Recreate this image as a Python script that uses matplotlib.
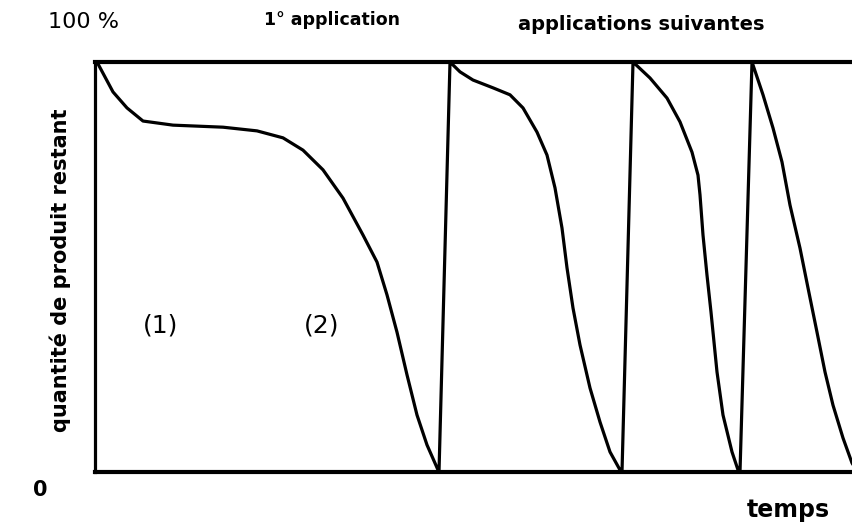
import matplotlib
matplotlib.use("Agg")
import matplotlib.pyplot as plt

# time (arbitrary units) and remaining product (%)
# 1st application, then the instantaneous re-application (vertical jump)
t1 = [2, 18, 32, 48, 78, 128, 162, 188, 208, 228, 248, 268, 282, 292, 302, 312, 322, 332, 343, 344]
q1 = [100, 92.7, 88.8, 85.6, 84.6, 84.1, 83.2, 81.5, 78.5, 73.7, 66.8, 57.8, 51.2, 43.2, 34.1, 23.7, 13.9, 6.6, 0.5, 0]

# following applications
t2 = [355, 365, 378, 398, 415, 428, 442, 452, 460, 467, 472, 478, 485, 495, 505, 515, 525, 527]
q2 = [100, 97.6, 95.6, 93.7, 92, 88.8, 82.9, 77.3, 69.3, 59.5, 49.8, 40, 31, 20.5, 12.2, 4.9, 0.5, 0]

t3 = [538, 555, 572, 585, 597, 603, 605, 608, 612, 616, 622, 628, 637, 643, 645]
q3 = [100, 96.1, 91.2, 85.4, 78, 72.4, 67.6, 57.8, 48, 39, 24.4, 13.9, 4.9, 0.5, 0]

t4 = [657, 668, 678, 687, 695, 705, 713, 722, 730, 738, 748, 757, 758]
q4 = [100, 92, 83.9, 75.6, 65.1, 54.6, 44.9, 34.1, 24.4, 16.3, 8.3, 2.2, 1.8]

W, H = 853, 522
fig = plt.figure(figsize=(W / 100, H / 100), dpi=100)
ax = fig.add_axes([95 / W, 50 / H, 1 - 95 / W, 410 / H])

ts = t1 + t2 + t3 + t4
qs = q1 + q2 + q3 + q4
ax.plot(ts, qs, color="black", lw=2.3, solid_joinstyle="round", solid_capstyle="round")

ax.set_xlim(0, 758)
ax.set_ylim(0, 100)
ax.set_xticks([])
ax.set_yticks([])
for side in ["top", "bottom"]:
    ax.spines[side].set_linewidth(3)
ax.spines["left"].set_linewidth(2.3)
ax.spines["right"].set_visible(False)
for s in ax.spines.values():
    s.set_color("black")

fam = "DejaVu Sans"
def ft(x, y, s, **kw):
    fig.text(x / W, 1 - y / H, s, family=fam, va="center", **kw)

ft(48, 22, "100 %", fontsize=16, ha="left")
ft(264, 20, "1° application", fontsize=12.5, fontweight="bold", ha="left")
ft(518, 25, "applications suivantes", fontsize=14, fontweight="bold", ha="left")
ft(40, 490, "0", fontsize=15, fontweight="bold", ha="center")
ft(788, 510, "temps", fontsize=17, fontweight="bold", ha="center")
ft(161, 325, "(1)", fontsize=18, ha="center")
ft(322, 325, "(2)", fontsize=18, ha="center")
fig.text(60 / W, 1 - 270 / H, "quantité de produit restant", family=fam,
         fontsize=15, fontweight="bold", rotation=90, ha="center", va="center")

fig.savefig("out.png", dpi=100)
